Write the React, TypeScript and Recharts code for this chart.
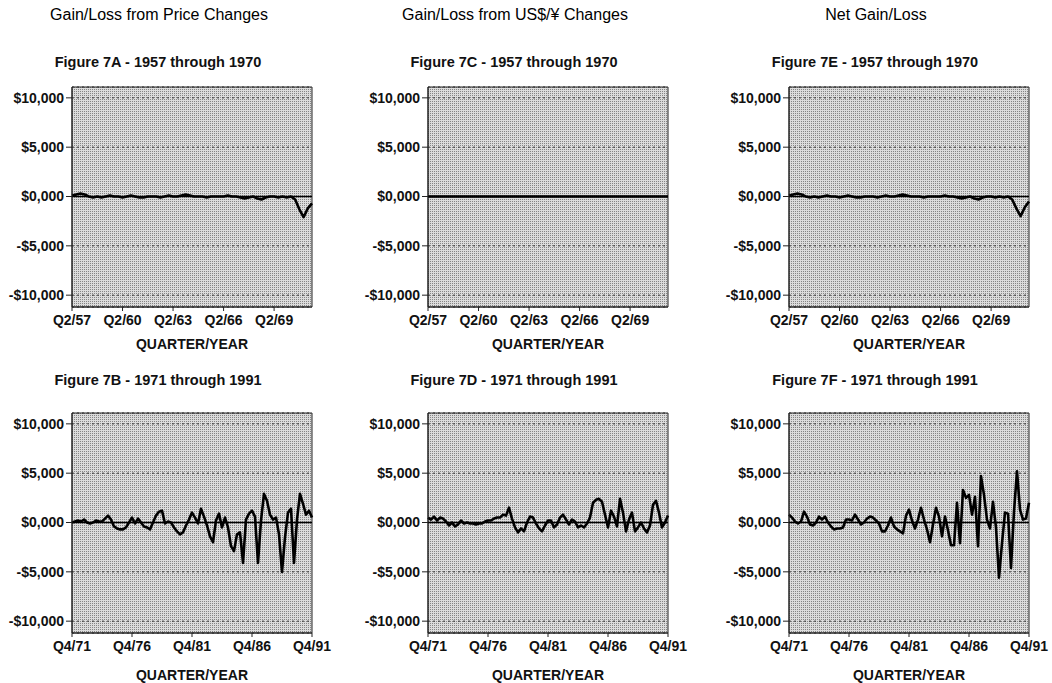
import React from "react";
import { LineChart, Line, XAxis, YAxis, CartesianGrid, ReferenceLine, ReferenceArea } from "recharts";

// quarter labels, e.g. Q2/57
const quarterRange = (q0: number, y0: number, n: number) => {
  const out: string[] = [];
  let q = q0;
  let y = y0;
  for (let i = 0; i < n; i++) {
    out.push(`Q${q}/${String(y).padStart(2, "0")}`);
    q++;
    if (q > 4) {
      q = 1;
      y++;
    }
  }
  return out;
};

const QUARTERS_EARLY = quarterRange(2, 57, 58);
const QUARTERS_LATE = quarterRange(4, 71, 81);

const TICKS_EARLY = ["Q2/57", "Q2/60", "Q2/63", "Q2/66", "Q2/69"];
const TICKS_LATE = ["Q4/71", "Q4/76", "Q4/81", "Q4/86", "Q4/91"];

const Y_TICKS = [10000, 5000, 0, -5000, -10000];
const Y_TICK_LABELS = ["$10,000", "$5,000", "$0,000", "-$5,000", "-$10,000"];
const Y_DOMAIN: [number, number] = [-11200, 11100];

// Figure 7A - price changes 1957-1970
const PRICE_EARLY = [
  100, 200, 300, 200, 0, -100, 0, -100, 0, 100,
  0, 0, -100, 0, 100, 0, -100, -100, 0, 0,
  0, -100, 0, 100, 0, 0, 100, 200, 100, 0,
  0, 0, -100, 0, 0, 0, 0, 100, 0, 0,
  -100, -200, -100, 0, -200, -300, -100, 0, 0, -100,
  0, -100, 0, -300, -1300, -2100, -1200, -700,
];

// Figure 7C - US$/yen changes 1957-1970
const FX_EARLY = [
  0, 0, 0, 0, 0, 0, 0, 0, 0, 0,
  0, 0, 0, 0, 0, 0, 0, 0, 0, 0,
  0, 0, 0, 0, 0, 0, 0, 0, 0, 0,
  0, 0, 0, 0, 0, 0, 0, 0, 0, 0,
  0, 0, 0, 0, 0, 0, 0, 0, 0, 0,
  0, 0, 0, 0, 0, 0, 0, 0,
];

// Figure 7E - net 1957-1970
const NET_EARLY = [
  100, 200, 300, 200, 0, -100, 0, -100, 0, 100,
  0, 0, -100, 0, 100, 0, -100, -100, 0, 0,
  0, -100, 0, 100, 0, 0, 100, 200, 100, 0,
  0, 0, -100, 0, 0, 0, 0, 100, 0, 0,
  -100, -200, -100, 0, -200, -300, -100, 0, 0, -100,
  0, -100, 0, -300, -1200, -2000, -1100, -500,
];

// Figure 7B - price changes 1971-1991
const PRICE_LATE = [
  0, 100, 200, 100, 300, 0, -100, 0, 200, 100,
  100, 400, 700, 300, -400, -600, -700, -700, -500, 0,
  500, -100, 400, 0, -400, -500, -700, 0, 700, 1100,
  1200, -100, 100, 0, -500, -900, -1200, -1000, -300, 300,
  1000, 500, -100, 1400, 600, -300, -1400, -2000, 200, 900,
  -500, 500, -500, -2400, -2900, -1200, -1000, -4100, 300, 900,
  1200, 600, -4100, 200, 2900, 2200, 800, 300, 500, -1200,
  -5000, -1500, 1000, 1400, -4100, 300, 2900, 1900, 800, 1200,
  500,
];

// Figure 7D - US$/yen changes 1971-1991
const FX_LATE = [
  500, 300, 600, 200, 500, 400, 100, -300, 0, -400,
  -200, 200, -100, 0, -100, -100, -200, -100, -100, 100,
  200, 200, 400, 500, 500, 800, 700, 1500, 400, -500,
  -1000, -600, -900, 0, 600, 500, -100, -600, -900, -300,
  200, 200, -500, -200, 500, 800, 300, -200, 300, 100,
  -500, -300, -500, -100, 500, 2000, 2300, 2400, 2100, 800,
  -500, 1200, 600, -400, 2400, 1000, -900, 300, 1000, -900,
  -500, 0, -600, -1000, -300, 1800, 2200, 1000, -500, 0,
  700,
];

// Figure 7F - net 1971-1991
const NET_LATE = [
  800, 500, 100, -100, 100, 1100, 600, -200, -300, 0,
  600, 300, 600, 0, -400, -700, -600, -600, -500, 300,
  300, 200, 800, 300, -200, 0, 400, 600, 500, 200,
  -100, -900, -900, -300, 500, -400, -700, -900, -1100, 700,
  1300, 200, -600, 300, 1500, 300, -700, -2000, -200, 1500,
  600, -1400, 600, -800, -2300, -2300, 2000, -2100, 3300, 2500,
  2800, 800, 2600, -2400, 4700, 2800, 300, -600, 2100, -500,
  -5600, -2100, 1000, 900, -4600, 1100, 5200, 1300, 300, 400,
  2000,
];

const HEADERS = ["Gain/Loss from Price Changes", "Gain/Loss from US$/\u00a5 Changes", "Net Gain/Loss"];

const FONT = '"Liberation Sans", Arial, sans-serif';
const PLOT_W = 240;
const PLOT_H = 220;
const Y_AXIS_W = 70;
const TOP_PAD = 10;

interface PanelProps {
  plotLeft: number;
  plotTop: number;
  title: string;
  titleGap: number;
  categories: string[];
  values: number[];
  ticks: string[];
  labelOffset: number;
}

function Panel({ plotLeft, plotTop, title, titleGap, categories, values, ticks, labelOffset }: PanelProps) {
  const data = categories.map((q, i) => ({ q, v: values[i] }));
  const center = plotLeft + 86;
  return (
    <>
      <div
        style={{
          position: "absolute",
          left: center - 150,
          width: 300,
          top: plotTop - titleGap,
          lineHeight: "20px",
          fontSize: 14.5,
          fontWeight: "bold",
          textAlign: "center",
          color: "#111",
        }}
      >
        {title}
      </div>
      <div style={{ position: "absolute", left: plotLeft - Y_AXIS_W, top: plotTop - TOP_PAD }}>
        <LineChart
          width={Y_AXIS_W + PLOT_W + 20}
          height={TOP_PAD + PLOT_H + 50}
          data={data}
          margin={{ top: TOP_PAD, right: 20, bottom: 0, left: 0 }}
        >
          <CartesianGrid vertical={false} stroke="#333" strokeDasharray="2 3" fill="url(#halftone)" fillOpacity={1} />
          <XAxis
            dataKey="q"
            ticks={ticks}
            interval={0}
            tickSize={4}
            tickMargin={4}
            height={50}
            axisLine={{ stroke: "#222" }}
            tickLine={{ stroke: "#222" }}
            tick={{ fontSize: 14, fill: "#111", fontWeight: "bold" }}
            label={{ value: "QUARTER/YEAR", position: "insideBottom", offset: labelOffset, fontSize: 14, fill: "#111", fontWeight: "bold" }}
          />
          <YAxis
            type="number"
            domain={Y_DOMAIN}
            ticks={Y_TICKS}
            interval={0}
            width={Y_AXIS_W}
            tickSize={6}
            tickMargin={2}
            axisLine={{ stroke: "#222" }}
            tickLine={{ stroke: "#222" }}
            tick={{ fontSize: 14, fill: "#111", fontWeight: "bold" }}
            tickFormatter={(v: number) => Y_TICK_LABELS[Y_TICKS.indexOf(v)] ?? ""}
          />
          <ReferenceLine y={0} stroke="#000" strokeWidth={1.5} />
          <ReferenceArea
            x1={categories[0]}
            x2={categories[categories.length - 1]}
            y1={Y_DOMAIN[0]}
            y2={Y_DOMAIN[1]}
            fill="none"
            stroke="#222"
            ifOverflow="visible"
          />
          <Line
            type="linear"
            dataKey="v"
            stroke="#000"
            strokeWidth={2.6}
            strokeLinejoin="round"
            dot={false}
            isAnimationActive={false}
          />
        </LineChart>
      </div>
    </>
  );
}

const COLS = [72, 428, 789];
const ROWS = [87, 413];

export default function App() {
  return (
    <div
      style={{
        position: "absolute",
        left: 0,
        top: 0,
        width: 1052,
        height: 683,
        overflow: "hidden",
        background: "#fff",
        fontFamily: FONT,
        color: "#000",
      }}
    >
      <svg width="0" height="0" style={{ position: "absolute" }}>
        <defs>
          <pattern id="halftone" width="2" height="2" patternUnits="userSpaceOnUse">
            <rect width="2" height="2" fill="#dcdcdc" />
            <rect width="1" height="1" fill="#858585" />
          </pattern>
        </defs>
      </svg>
      {HEADERS.map((h, i) => (
        <div
          key={h}
          style={{
            position: "absolute",
            left: COLS[i] + 87 - 160,
            width: 320,
            top: 5,
            lineHeight: "20px",
            fontSize: 16,
            textAlign: "center",
          }}
        >
          {h}
        </div>
      ))}
      <Panel plotLeft={COLS[0]} plotTop={ROWS[0]} title="Figure 7A - 1957 through 1970" titleGap={35} categories={QUARTERS_EARLY} values={PRICE_EARLY} ticks={TICKS_EARLY} labelOffset={8} />
      <Panel plotLeft={COLS[1]} plotTop={ROWS[0]} title="Figure 7C - 1957 through 1970" titleGap={35} categories={QUARTERS_EARLY} values={FX_EARLY} ticks={TICKS_EARLY} labelOffset={8} />
      <Panel plotLeft={COLS[2]} plotTop={ROWS[0]} title="Figure 7E - 1957 through 1970" titleGap={35} categories={QUARTERS_EARLY} values={NET_EARLY} ticks={TICKS_EARLY} labelOffset={8} />
      <Panel plotLeft={COLS[0]} plotTop={ROWS[1]} title="Figure 7B - 1971 through 1991" titleGap={43} categories={QUARTERS_LATE} values={PRICE_LATE} ticks={TICKS_LATE} labelOffset={3} />
      <Panel plotLeft={COLS[1]} plotTop={ROWS[1]} title="Figure 7D - 1971 through 1991" titleGap={43} categories={QUARTERS_LATE} values={FX_LATE} ticks={TICKS_LATE} labelOffset={3} />
      <Panel plotLeft={COLS[2]} plotTop={ROWS[1]} title="Figure 7F - 1971 through 1991" titleGap={43} categories={QUARTERS_LATE} values={NET_LATE} ticks={TICKS_LATE} labelOffset={3} />
    </div>
  );
}
